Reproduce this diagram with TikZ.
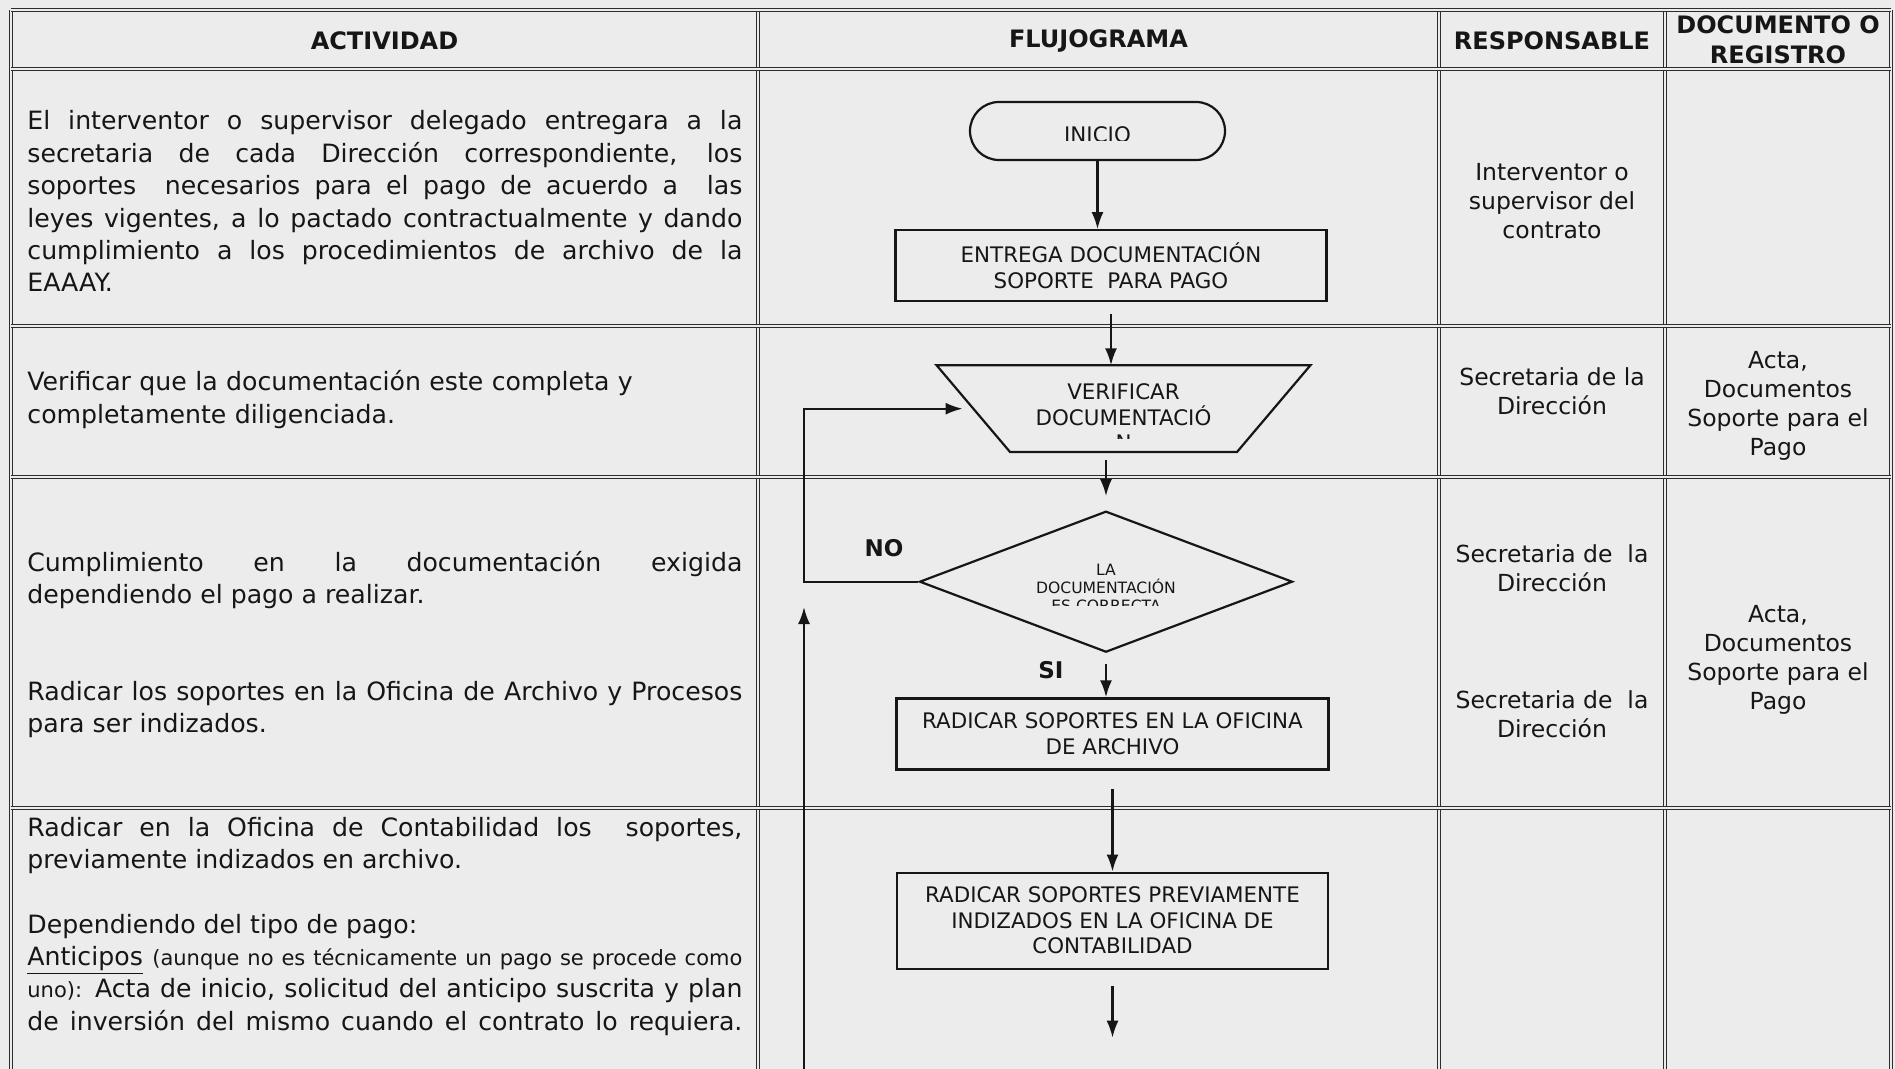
\documentclass[tikz,border=0pt]{standalone}
\usepackage{fontspec}
\setmainfont{DejaVu Sans}
\usepackage{tikz}
\usetikzlibrary{shapes.geometric, arrows.meta, positioning, calc}
\usepackage{xcolor}
\definecolor{paper}{RGB}{236,236,236}
\definecolor{ink}{RGB}{22,22,22}
\definecolor{rulegray}{RGB}{45,45,45}

\newcommand{\bodyfont}{\fontsize{12.6}{16.2}\selectfont}
\newcommand{\smallbody}{\fontsize{10.5}{16.2}\selectfont}
\newcommand{\cellfont}{\fontsize{11.75}{14.5}\selectfont}
\newcommand{\headfont}{\fontsize{12}{15}\selectfont\bfseries}
\newcommand{\flowfont}{\fontsize{10.7}{12.75}\selectfont}
\newcommand{\tinyflow}{\fontsize{7.8}{9}\selectfont}

\tikzstyle{termbox} = [%
  rectangle,
  draw=ink,
  line width=1.1pt,
  rounded corners=14.5pt,
  minimum width=127.5pt,
  minimum height=29pt
]
\tikzstyle{procbox} = [%
  rectangle,
  draw=ink,
  line width=1.1pt,
  align=center,
  font=\flowfont
]
\tikzstyle{checkbox} = [%
  rectangle,
  minimum width=186.5pt,
  minimum height=43pt
]
\tikzstyle{decbox} = [%
  diamond,
  draw=ink,
  line width=1.1pt,
  minimum width=186.5pt,
  minimum height=70.5pt
]

\begin{document}
\begin{tikzpicture}[%
  x=0.5pt, y=-0.5pt,
  >={Latex[length=8.5pt,width=6pt]},
  every node/.style={text=ink, inner sep=0pt},
  tline/.style={draw=rulegray, line width=0.6pt, double=paper, double distance=0.7pt},
  outline/.style={draw=ink, line width=1.1pt, line join=miter},
  flow/.style={draw=ink, line width=1.1pt, ->},
  act/.style={anchor=base west, text width=357.5pt, align=justify, font=\bodyfont},
  cell/.style={anchor=north, align=center, font=\cellfont},
  head/.style={align=center, font=\headfont},
  lbl/.style={font=\fontsize{11.5}{13}\selectfont\bfseries}
]

  \useasboundingbox (0,0) rectangle (1895,1069);
  \fill[paper] (0,0) rectangle (1895,1069);

  % Table
  \foreach \x in {11,758,1439,1665,1891}
    \draw[tline] (\x,10) -- (\x,1069);
  \foreach \y in {10,69,326,477,808}
    \draw[tline] (11,\y) -- (1891,\y);

  % Header
  \node[head] (h-act) at (384.5,41) {ACTIVIDAD};
  \node[head] (h-flow) at (1098.5,41) {FLUJOGRAMA};
  \node[head] (h-resp) at (1552,41) {RESPONSABLE};
  \node[head] (h-doc) at (1778,40) {DOCUMENTO O\\REGISTRO};

  % Activities
  \node[act] (act1) at (27,130) {El interventor o supervisor delegado entregara a la\linebreak
    secretaria de cada Dirección correspondiente, los\linebreak
    soportes\ \ necesarios para el pago de acuerdo a\ \ las\linebreak
    leyes vigentes, a lo pactado contractualmente y dando\linebreak
    cumplimiento a los procedimientos de archivo de la\linebreak
    EAAAY.};
  \node[act, align=left] (act2) at (27,391) {Verificar que la documentación este completa y\\
    completamente diligenciada.};
  \node[act] (act3) at (27,571) {Cumplimiento en la documentación exigida\linebreak
    dependiendo el pago a realizar.};
  \node[act] (act4) at (27,700) {Radicar los soportes en la Oficina de Archivo y Procesos\linebreak
    para ser indizados.};
  \node[act] (act5) at (27,836) {Radicar en la Oficina de Contabilidad los\ \ soportes,\linebreak
    previamente indizados en archivo.};
  \node[act] (act6) at (27,933) {Dependiendo del tipo de pago:\\
    \underline{Anticipos} {\smallbody (aunque no es técnicamente un pago se procede como}\linebreak
    {\smallbody uno):} Acta de inicio, solicitud del anticipo suscrita y plan\linebreak
    {\parfillskip=0pt de inversión del mismo cuando el contrato lo requiera.\par}};

  % Responsables
  \node[cell] (resp1) at (1552,163) {Interventor o\\supervisor del\\contrato};
  \node[cell] (resp2) at (1552,367) {Secretaria de la\\Dirección};
  \node[cell] (resp3) at (1552,544) {Secretaria de\ \ la\\Dirección};
  \node[cell] (resp4) at (1552,690) {Secretaria de\ \ la\\Dirección};

  % Documentos
  \node[cell] (doc2) at (1778,351) {Acta,\\Documentos\\Soporte para el\\Pago};
  \node[cell] (doc3) at (1778,605) {Acta,\\Documentos\\Soporte para el\\Pago};

  % Flowchart nodes
  \node[termbox] (inicio) at (1097.5,131) {};
  \node[procbox, below=34pt of inicio, xshift=6.75pt, minimum width=215.5pt,
    minimum height=35.5pt] (entrega) {ENTREGA DOCUMENTACIÓN\\SOPORTE\ \ PARA PAGO};
  \node[checkbox, below=31.5pt of entrega, xshift=6.25pt] (verificar) {};
  \draw[outline] (verificar.north west) -- (verificar.north east)
    -- ([xshift=-36.75pt]verificar.south east) -- ([xshift=36.75pt]verificar.south west) -- cycle;
  \node[decbox, below=29pt of verificar, xshift=-8.75pt] (decision) {};
  \node[procbox, below=22pt of decision, xshift=3.25pt, minimum width=216pt,
    minimum height=35.5pt] (radicar1) {RADICAR SOPORTES EN LA OFICINA\\DE ARCHIVO};
  \node[procbox, below=50.5pt of radicar1, minimum width=215.5pt,
    minimum height=48pt] (radicar2) {RADICAR SOPORTES PREVIAMENTE\\INDIZADOS EN LA OFICINA DE\\CONTABILIDAD};

  % Texts cut by their boxes
  \begin{scope}
    \clip (960,100) rectangle (1240,141);
    \node[font=\flowfont] (inicio-txt) at ([yshift=-2pt]inicio.center) {INICIO};
  \end{scope}
  \begin{scope}
    \clip (930,355) rectangle (1320,439);
    \node[font=\flowfont, align=center] (verificar-txt) at ([yshift=-4.25pt]verificar.center)
      {VERIFICAR\\DOCUMENTACIÓ\\N};
  \end{scope}
  \begin{scope}
    \clip (920,510) rectangle (1290,605);
    \node[font=\tinyflow, align=center] (decision-txt) at ([yshift=-3.25pt]decision.center)
      {LA\\DOCUMENTACIÓN\\ES CORRECTA};
  \end{scope}

  % Free ends
  \coordinate[below=34pt of radicar2] (fin);
  \coordinate (retbase) at (804,1069);
  \coordinate (rettip) at (804,607);

  % Connectors
  \draw[flow] (inicio.south) -- (inicio.south |- entrega.north);
  \draw[flow, shorten <=6pt] (entrega.south) -- (entrega.south |- verificar.north);
  \draw[flow, shorten <=4pt, shorten >=7pt] (decision.north |- verificar.south) -- (decision.north);
  \draw[flow, shorten <=5.5pt] (decision.south) -- node[lbl, pos=0.39, left=20.75pt] {SI}
    (decision.south |- radicar1.north);
  \draw[flow, shorten <=9pt] (radicar1.south) -- (radicar1.south |- radicar2.north);
  \draw[flow, shorten <=8pt] (radicar2.south) -- (fin);
  \draw[flow] (decision.west) -- node[lbl, pos=0.3, above=12pt] {NO}
    (decision.west -| retbase) |- ([xshift=13pt]verificar.west);
  \draw[flow] (retbase) -- (rettip);

\end{tikzpicture}
\end{document}
